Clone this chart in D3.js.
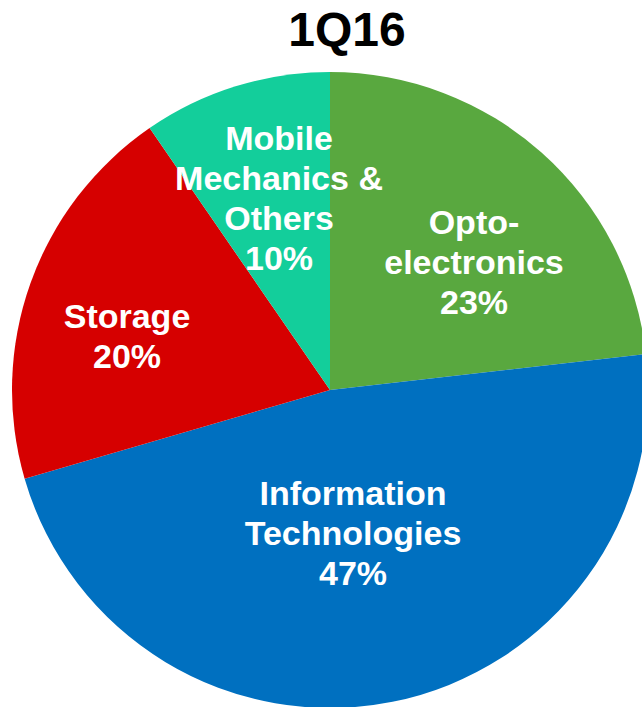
<!DOCTYPE html>
<html>
<head>
<meta charset="utf-8">
<script src="https://cdn.jsdelivr.net/npm/d3@7"></script>
<style>
  body { margin: 0; background: #fff; }
  svg text { font-family: "Liberation Sans", Arial, sans-serif; font-weight: bold; }
</style>
</head>
<body>
<svg id="chart" width="642" height="707"></svg>
<script>
let title = "1Q16"
let segments = ["Opto-electronics", "Information Technologies", "Storage", "Mobile Mechanics & Others"]
// slice sizes (labels show rounded values)
let shares = [23.2, 47.3, 19.9, 9.6]
let labelLines = [["Opto-", "electronics", "23%"], ["Information", "Technologies", "47%"], ["Storage", "20%"], ["Mobile", "Mechanics &", "Others", "10%"]]
let colors = ["#59a83f", "#0070c0", "#d60000", "#13ce9b"]

let svg = d3.select("#chart")
let cx = 330, cy = 390, radius = 318

//title
svg.append("text")
   .text(title)
   .attr("x", 347)
   .attr("y", 46)
   .attr("text-anchor", "middle")
   .style("font-size", "48px")
   .attr("fill", "#000")

let pie = d3.pie().sort(null).value((d) => d)
let arcs = pie(shares)
let arc = d3.arc().innerRadius(0).outerRadius(radius)

let g = svg.append("g").attr("transform", `translate(${cx}, ${cy})`)

g.selectAll("path")
 .data(arcs)
 .enter()
 .append("path")
 .attr("d", arc)
 .attr("fill", (d, i) => colors[i])

//label centres, picked by eye (offset from pie centre)
let labelCentres = [[144, -128], [23, 143], [-203, -54], [-51, -192]]
let lineGap = 40

let labels = g.selectAll("text.lbl")
              .data(arcs)
              .enter()
              .append("text")
              .attr("class", "lbl")
              .attr("text-anchor", "middle")
              .attr("fill", "#fff")
              .style("font-size", "34px")

labels.each(function (d, i) {
    let lines = labelLines[i]
    let top = labelCentres[i][1] - (lines.length - 1) * lineGap / 2
    d3.select(this).selectAll("tspan")
      .data(lines)
      .enter()
      .append("tspan")
      .attr("x", labelCentres[i][0])
      .attr("y", (l, j) => top + j * lineGap)
      .attr("dy", "0.35em")
      .text((l) => l)
})
</script>
</body>
</html>
